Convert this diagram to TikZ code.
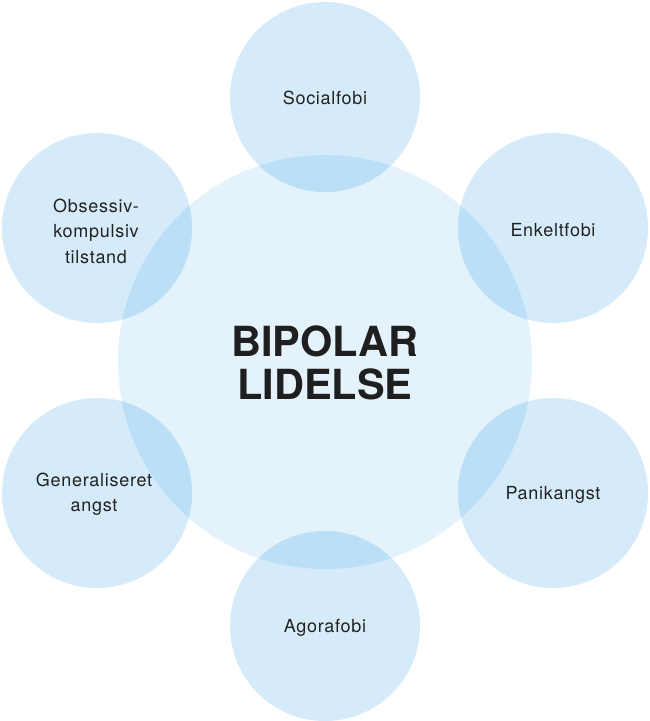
\documentclass[tikz,border=0pt]{standalone}
\usepackage{fontspec}
\setmainfont{TeX Gyre Heros}
\newfontfamily\labelfont[LetterSpace=4]{TeX Gyre Heros}
\definecolor{bigblue}{HTML}{E4F2FC}
\definecolor{smallblue}{HTML}{D5EBFA}
\definecolor{overlapblue}{HTML}{BBDFF7}
\definecolor{textgray}{HTML}{222222}
\tikzset{
  label text/.style={text=textgray, align=center, font=\labelfont\fontsize{18}{25.5}\selectfont},
  main text/.style={text=black!88, align=center, font=\fontsize{41.5}{43}\selectfont\bfseries}
}

\begin{document}
\begin{tikzpicture}[x=1pt,y=-1pt]
    \useasboundingbox (0,0) rectangle (650,721);

    % Draw big circle
    \fill[color=bigblue] (325,362) circle (207pt);

    % Draw small circles
    \foreach \cx/\cy in {325/97, 553/228, 553/493, 325/626, 97/493, 97/228}
        \fill[color=smallblue] (\cx,\cy) circle (95pt);

    % Overlaps
    \begin{scope}
        \clip (325,362) circle (207pt);
        \foreach \cx/\cy in {325/97, 553/228, 553/493, 325/626, 97/493, 97/228}
            \fill[color=overlapblue] (\cx,\cy) circle (95pt);
    \end{scope}

    % Labels
    \node[main text] (bipolar) at (325,363) {BIPOLAR\\LIDELSE};
    \node[label text] (social) at (325,98) {Socialfobi};
    \node[label text] (enkelt) at (553,230) {Enkeltfobi};
    \node[label text] (panik) at (553,495) {Panikangst};
    \node[label text] (agora) at (325,628) {Agorafobi};
    \node[label text] (general) at (94,494) {Generaliseret\\angst};
    \node[label text] (obsessiv) at (96,231) {Obsessiv-\\kompulsiv\\tilstand};

\end{tikzpicture}
\end{document}
